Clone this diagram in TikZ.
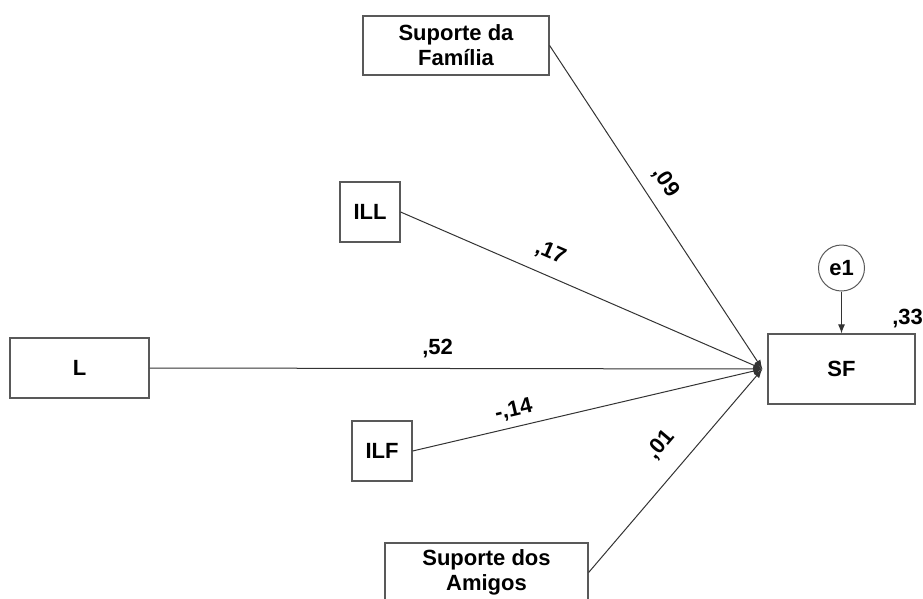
\documentclass[tikz,border=0pt]{standalone}
\usepackage{fontspec}
\setmainfont{Liberation Sans}
\usetikzlibrary{arrows.meta, positioning}
\newcommand{\semfont}{\fontsize{22}{25}\selectfont\bfseries}
\colorlet{box edge}{black!65}
\colorlet{reg line}{black!80}
\tikzset{
  var/.style={draw=box edge, line width=1.2pt, inner sep=0pt, align=center, font=\semfont},
  err/.style={draw=box edge, circle, line width=1pt, minimum size=46pt, inner sep=0pt, font=\semfont},
  reg/.style={draw=reg line, line width=1pt, -{Latex[length=9pt,width=7pt]}},
  coef/.style={sloped, inner sep=2pt, above=#1, font=\semfont},
  coef/.default=10pt,
  est/.style={inner sep=0pt, font=\semfont}
}

\begin{document}
\begin{tikzpicture}[x=1pt, y=-1pt]
    \useasboundingbox (0,0) rectangle (923,598);
    \node[var, minimum width=186pt, minimum height=59pt] (fam) at (456,45.5) {Suporte da\\Família};
    \node[var, minimum width=60pt, minimum height=60pt] (ill) at (370,212) {ILL};
    \node[var, minimum width=139pt, minimum height=60pt] (lv) at (79.5,368) {L};
    \node[var, minimum width=60pt, minimum height=60pt] (ilf) at (382,451) {ILF};
    \node[var, minimum width=203pt, minimum height=59pt] (ami) at (486.5,572.5) {Suporte dos\\Amigos};
    \node[var, minimum width=147pt, minimum height=70pt] (sf) at (841.5,369) {SF};
    \node[err] (e1) at (841.5,268) {e1};
    \node[est] (r2) at ([xshift=-8pt, yshift=15pt]sf.north east) {,33};
    \coordinate (hub) at ([xshift=-5pt]sf.west);

    \draw[reg] (fam.east) -- node[coef, pos=0.46] {,09} (hub);
    \draw[reg] (ill.east) -- node[coef, pos=0.39] {,17} (hub);
    \draw[reg] (lv.east) -- node[coef=8pt, pos=0.47] {,52} (hub);
    \draw[reg] (ilf.east) -- node[coef=5pt, pos=0.3] {-,14} (hub);
    \draw[reg] (ami.east) -- node[coef=16pt, pos=0.54] {,01} (hub);
    \draw[reg] (e1) -- (sf);
\end{tikzpicture}
\end{document}
